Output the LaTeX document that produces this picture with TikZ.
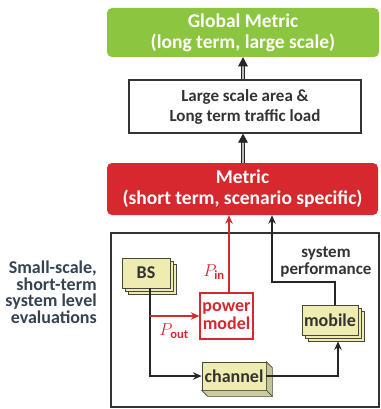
\documentclass[tikz,border=0pt]{standalone}
\usepackage{fontspec}
\setmainfont{Carlito}
\usetikzlibrary{arrows.meta, positioning, calc, shadows}
\definecolor{globalgreen}{RGB}{140,197,64}
\definecolor{metricred}{RGB}{214,40,46}
\definecolor{boxyellow}{RGB}{238,236,176}
\definecolor{boxedge}{RGB}{70,72,60}
\definecolor{labeltext}{RGB}{52,66,82}
\tikzset{
	metricbox/.style={rectangle, rounded corners=5pt, text=white, font=\fontsize{19.5}{21}\selectfont\bfseries, align=center, inner sep=0pt},
	unitbox/.style={rectangle, draw=boxedge, fill=boxyellow, line width=0.7pt, text=black!80, font=\fontsize{18}{19}\selectfont\bfseries, inner sep=0pt},
	line/.style={draw=black!85, line width=1.3pt, -{Stealth[length=3mm, width=2.6mm]}}
}
\begin{document}
\begin{tikzpicture}[
		x=1pt, y=-1pt,
		>={Stealth},
		bigarrow/.style={draw=black!85, double=gray!55, double distance=1.4pt, line width=0.9pt, -{Triangle[length=3.2mm, width=3.4mm]}},
		redline/.style={draw=metricred, line width=1.3pt, -{Stealth[length=3mm, width=2.6mm]}}
		]
		\useasboundingbox (0,0) rectangle (380,409);
		
		% --- Metric Boxes at the Top ---
		\node[metricbox, fill=globalgreen, minimum width=272pt, minimum height=49pt] (global) at (243,32.5) {Global Metric\\(long term, large scale)};
		\node[rectangle, draw=black!80, line width=1.2pt, minimum width=232pt, minimum height=53pt, align=center, font=\fontsize{17}{20}\selectfont\bfseries, text=black!80] (large) at (245,106.5) {Large scale area \&\\Long term traffic load};
		\node[metricbox, fill=metricred, minimum width=271pt, minimum height=52pt] (metric) at (242.5,189) {Metric\\(short term, scenario specific)};
		
		\draw[bigarrow] (large.north -| global) -- (global.south);
		\draw[bigarrow] (metric.north -| global) -- (large.south -| global);
		
		% --- System Level Evaluation Frame ---
		\node[rectangle, draw=black!80, line width=1.2pt, minimum width=268pt, minimum height=174pt, inner sep=0pt] (sysframe) at (245,320) {};
		\node[align=right, anchor=east, inner sep=0pt, text=labeltext, font=\fontsize{18}{16.5}\selectfont\bfseries] (evaltext) at (97,292) {Small-scale,\\short-term\\system level\\evaluations};
		
		% --- Units inside the Frame ---
		\node[unitbox, double copy shadow={shadow xshift=3pt, shadow yshift=-3pt, fill=boxyellow, draw=boxedge}, minimum width=48pt, minimum height=30pt] (bs) at (146,273) {BS};
		\node[rectangle, draw=metricred, fill=white, line width=1.3pt, minimum width=53pt, minimum height=46pt, inner sep=0pt, align=center, text=metricred, font=\fontsize{18}{18}\selectfont\bfseries] (power) at (226.5,316) {power\\model};
		\node[unitbox, minimum width=64pt, minimum height=28pt] (channel) at (234,376) {channel};
		\node[unitbox, double copy shadow={shadow xshift=3pt, shadow yshift=-3pt, fill=boxyellow, draw=boxedge}, minimum width=56pt, minimum height=30pt] (mobile) at (330,320) {mobile};
		
		% depth faces of the channel block
		\filldraw[fill=boxyellow!80!black!90, draw=boxedge, line width=0.7pt] (channel.north east) -- ++(6,6) -- ($(channel.south east)+(6,6)$) -- (channel.south east) -- cycle;
		\filldraw[fill=boxyellow!85!black!95, draw=boxedge, line width=0.7pt] (channel.south west) -- ++(6,6) -- ($(channel.south east)+(6,6)$) -- (channel.south east) -- cycle;
		
		% --- Signal Connections ---
		\coordinate (tap) at ($(bs.south)+(4,0)$);
		\draw[line] (tap) |- (channel.west);
		\draw[redline] (tap |- power.west) -- (power.west);
		\node[text=metricred, font=\fontsize{18}{18}\selectfont] (pout) at (174,331) {$P_{\mathbf{out}}$};
		\coordinate (pinx) at (229,0);
		\draw[redline] (power.north -| pinx) -- (metric.south -| pinx);
		\node[text=metricred, font=\fontsize{18}{18}\selectfont] (pin) at (214,272) {$P_{\mathbf{in}}$};
		
		\draw[line] (channel.east) -| ($(mobile.south)+(8,6)$);
		\coordinate (bend) at (272,282);
		\draw[line] ($(mobile.north)+(5,0)$) |- (bend) -- (bend |- metric.south);
		\node[align=center, text=black!80, font=\fontsize{17}{17}\selectfont\bfseries] (perf) at (326,262) {system\\performance};
		
	\end{tikzpicture}
\end{document}
